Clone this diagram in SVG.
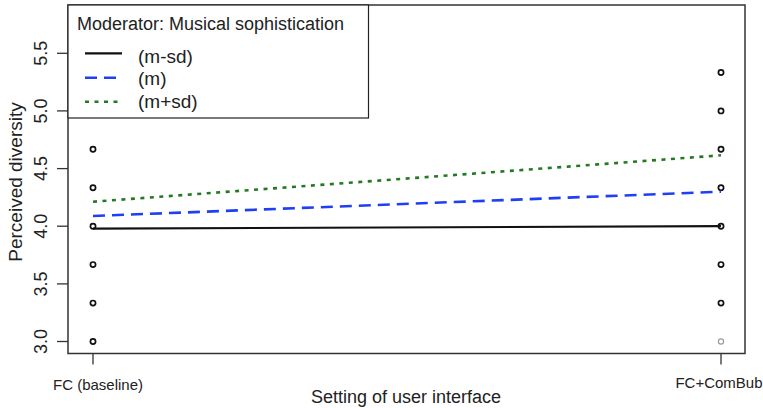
<svg xmlns="http://www.w3.org/2000/svg" width="763" height="408" viewBox="0 0 763 408">
<style>
text{font-family:"Liberation Sans",Arial,sans-serif;fill:#222}
.ytl{font-size:18px;text-anchor:middle}
.xtl{font-size:15px;text-anchor:middle}
.tick{stroke:#333;stroke-width:1.3}
.pt{fill:none;stroke:#111;stroke-width:1.7}
.l-msd{stroke:#111;stroke-width:2.2;fill:none}
.l-m{stroke:#1f3ff2;stroke-width:2.6;stroke-dasharray:12 7;fill:none}
.l-psd{stroke:#237a23;stroke-width:2.6;stroke-dasharray:4 5.5;fill:none}
.leg{font-size:19px}
</style>
<rect x="0" y="0" width="763" height="408" fill="#fff"/>
<g id="axes">
<rect x="68" y="5" width="677" height="348.5" fill="none" stroke="#333" stroke-width="1.5"/>
<g id="y-ticks">
<line class="tick" x1="57" y1="53.3" x2="68" y2="53.3"/>
<line class="tick" x1="57" y1="110.9" x2="68" y2="110.9"/>
<line class="tick" x1="57" y1="168.6" x2="68" y2="168.6"/>
<line class="tick" x1="57" y1="226.2" x2="68" y2="226.2"/>
<line class="tick" x1="57" y1="283.9" x2="68" y2="283.9"/>
<line class="tick" x1="57" y1="341.5" x2="68" y2="341.5"/>
<text class="ytl" transform="translate(47,53.3) rotate(-90)">5.5</text>
<text class="ytl" transform="translate(47,110.9) rotate(-90)">5.0</text>
<text class="ytl" transform="translate(47,168.6) rotate(-90)">4.5</text>
<text class="ytl" transform="translate(47,226.2) rotate(-90)">4.0</text>
<text class="ytl" transform="translate(47,283.9) rotate(-90)">3.5</text>
<text class="ytl" transform="translate(47,341.5) rotate(-90)">3.0</text>
</g>
<g id="x-ticks">
<line class="tick" x1="93" y1="353.5" x2="93" y2="364.5"/>
<line class="tick" x1="721" y1="353.5" x2="721" y2="364.5"/>
<text class="xtl" x="98" y="390">FC (baseline)</text>
<text class="xtl" x="719" y="387.5">FC+ComBub</text>
</g>
<text id="y-title" font-size="19" text-anchor="middle" transform="translate(22,182) rotate(-90)">Perceived diversity</text>
<text id="x-title" font-size="18" text-anchor="middle" x="406" y="403">Setting of user interface</text>
</g>
<g id="points">
<circle class="pt" cx="93" cy="341.5" r="2.6"/>
<circle class="pt" cx="93" cy="303.1" r="2.6"/>
<circle class="pt" cx="93" cy="264.6" r="2.6"/>
<circle class="pt" cx="93" cy="226.2" r="2.6"/>
<circle class="pt" cx="93" cy="187.8" r="2.6"/>
<circle class="pt" cx="93" cy="149.3" r="2.6"/>
<circle class="pt" cx="721" cy="341.5" r="2.6" stroke="#999" style="stroke:#9a9a9a;stroke-width:1.2"/>
<circle class="pt" cx="721" cy="303.1" r="2.6"/>
<circle class="pt" cx="721" cy="264.6" r="2.6"/>
<circle class="pt" cx="721" cy="226.2" r="2.6"/>
<circle class="pt" cx="721" cy="187.8" r="2.6"/>
<circle class="pt" cx="721" cy="149.3" r="2.6"/>
<circle class="pt" cx="721" cy="110.9" r="2.6"/>
<circle class="pt" cx="721" cy="72.5" r="2.6"/>
</g>
<g id="connectors">
<line class="l-msd" x1="93" y1="228.6" x2="721" y2="226.2"/>
<line class="l-m" x1="93" y1="216" x2="721" y2="191.7"/>
<line class="l-psd" x1="93" y1="201.7" x2="721" y2="155.3"/>
</g>
<g id="legend">
<rect x="68" y="5" width="300.5" height="113" fill="#fff" stroke="#222" stroke-width="1.2"/>
<text x="77" y="30" font-size="18">Moderator: Musical sophistication</text>
<line class="l-msd" x1="85" y1="53.3" x2="122" y2="53.3"/>
<line class="l-m" x1="85" y1="77.7" x2="122" y2="77.7"/>
<line class="l-psd" x1="85" y1="101.7" x2="122" y2="101.7"/>
<text class="leg" x="138" y="62.7">(m-sd)</text>
<text class="leg" x="138" y="85">(m)</text>
<text class="leg" x="138" y="107.5">(m+sd)</text>
</g>
</svg>
